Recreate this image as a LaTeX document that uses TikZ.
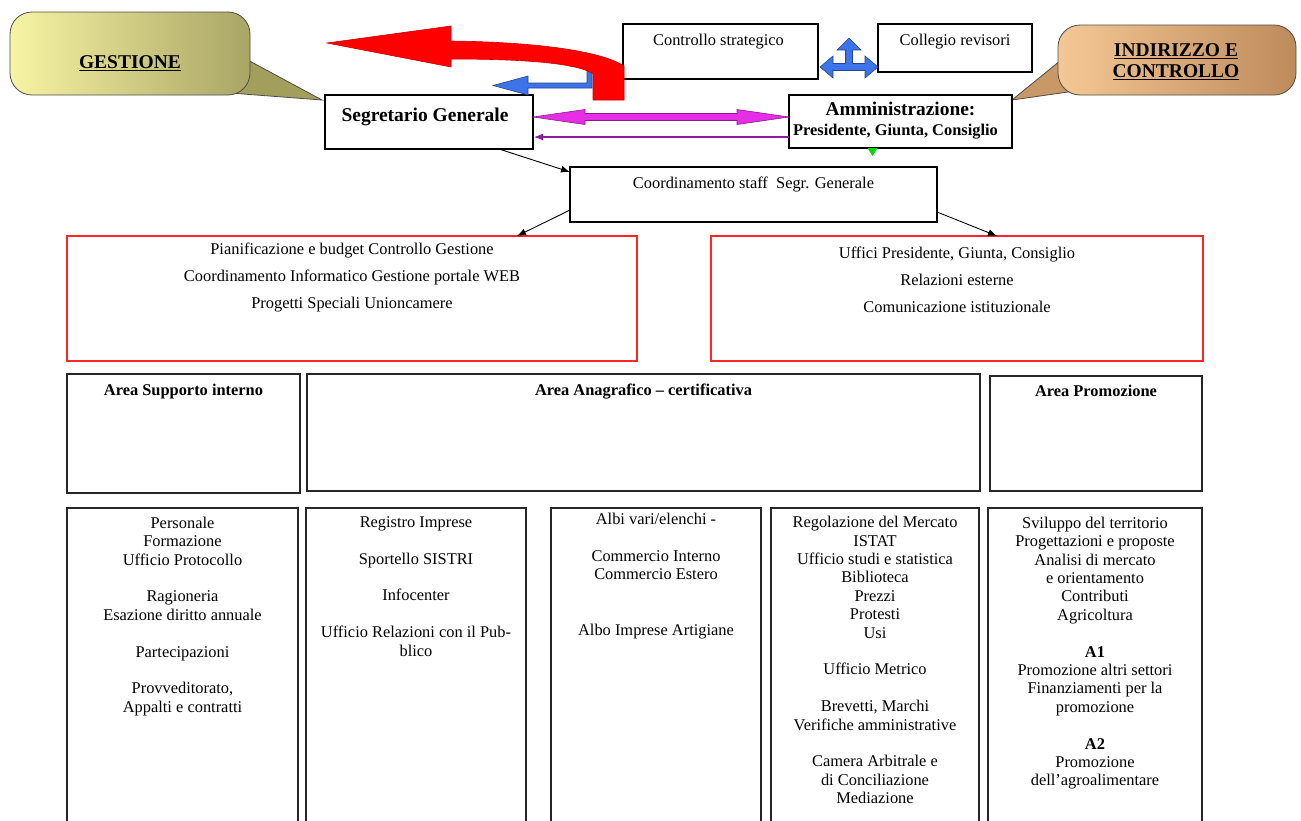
\documentclass[tikz,border=0pt]{standalone}
\usepackage{fontspec}
\setmainfont{Liberation Serif}
\usepackage{tikz}
\usetikzlibrary{calc,arrows.meta}
\definecolor{gestL}{HTML}{F7F4A4}
\definecolor{gestR}{HTML}{A9A565}
\definecolor{gestT}{HTML}{A29E5C}
\definecolor{indL}{HTML}{F4C894}
\definecolor{indR}{HTML}{BD8A5C}
\definecolor{indT}{HTML}{C99867}
\definecolor{mag}{HTML}{E52EE6}
\definecolor{purp}{HTML}{8B1C9C}
\definecolor{blu}{HTML}{3D74EA}
\newcommand{\txt}{\fontsize{16.4}{18.4}\selectfont}
\newcommand{\mybox}[5][box]{\node[#1,minimum width=#4pt,minimum height=#5pt] (#2) at (#3) {};}

\begin{document}
\begin{tikzpicture}[x=1pt,y=-1pt,>={Latex[length=9pt,width=7pt]},thick,
    box/.style={draw,line width=1.1pt,inner sep=0pt,outer sep=0pt},
    redbox/.style={box,draw=red!85!white},
    areabox/.style={box,line width=1.4pt,draw=black!85},
    lbl/.style={anchor=north,inner sep=0pt,align=center,font=\txt},
    blbl/.style={lbl,font=\txt\bfseries}]
\useasboundingbox (0,0) rectangle (1301,820);
\clip (0,0) rectangle (1301,820);

% callouts
\filldraw[fill=gestT,draw=black!70,line width=0.8pt] (244,58) -- (322,100) -- (230,93) -- cycle;
\shadedraw[left color=gestL,right color=gestR,draw=black!70,line width=0.8pt,rounded corners=22pt] (10,12) rectangle (250,95);
\node[font=\fontsize{19.5}{20}\selectfont\bfseries] (gest) at (130,63) {\underline{GESTIONE}};
\filldraw[fill=indT,draw=black!70,line width=0.8pt] (1066,56) -- (1012,100) -- (1082,90) -- cycle;
\shadedraw[left color=indL,right color=indR,draw=black!70,line width=0.8pt,rounded corners=22pt] (1058,25) rectangle (1296,95);
\node[font=\fontsize{19.5}{21}\selectfont\bfseries,align=center] (indir) at (1176,62) {\underline{INDIRIZZO E}\\\underline{CONTROLLO}};

% top boxes
\mybox{segr}{429,122}{208}{54}
\mybox{ctrl}{720.5,51.5}{195}{55}
\mybox{coll}{955,48}{154}{48}
\mybox{ammin}{900.5,121.5}{223}{53}
\mybox{coord}{753.5,194.5}{367}{55}
\node[blbl,font=\fontsize{19.5}{20}\selectfont\bfseries] (segr-t) at ($(segr.north)+(-4,12.5)$) {Segretario Generale};
\node[lbl] (ctrl-t) at ($(ctrl.north)+(-2,10)$) {Controllo strategico};
\node[lbl] (coll-t) at ($(coll.north)+(0,10)$) {Collegio revisori};
\node[blbl,font=\fontsize{19.4}{20}\selectfont\bfseries] (ammin-t) at ($(ammin.north)+(0,6.5)$) {Amministrazione:};
\node[blbl,font=\fontsize{16.4}{18}\selectfont\bfseries] (ammin-s) at ($(ammin.north)+(-5,28.5)$) {Presidente, Giunta, Consiglio};
\node[lbl] (coord-t) at ($(coord.north)+(0,9.5)$) {Coordinamento staff\ \ Segr. Generale};

% staff boxes
\mybox[redbox]{redL}{352,298.5}{570}{125}
\mybox[redbox]{redR}{957,298.5}{492}{125}
\node[lbl] (redL-t) at ($(redL.north)+(0,6.5)$) {Pianificazione e budget Controllo Gestione\\[8.6pt]
  Coordinamento Informatico Gestione portale WEB\\[8.6pt]Progetti Speciali Unioncamere};
\node[lbl] (redR-t) at ($(redR.north)+(0,10.5)$) {Uffici Presidente, Giunta, Consiglio\\[8.6pt]
  Relazioni esterne\\[8.6pt]Comunicazione istituzionale};

% areas
\mybox[areabox]{areaS}{183.5,433.5}{233}{119}
\mybox[areabox]{areaA}{643.5,432.5}{673}{117}
\mybox[areabox]{areaP}{1096,433.5}{212}{115}
\node[blbl] (areaS-t) at ($(areaS.north)+(0,9.5)$) {Area Supporto interno};
\node[blbl] (areaA-t) at ($(areaA.north)+(0,9.5)$) {Area Anagrafico – certificativa};
\node[blbl] (areaP-t) at ($(areaP.north)+(0,8.5)$) {Area Promozione};

% offices
\mybox[areabox]{off1}{182.5,674}{231}{332}
\mybox[areabox]{off2}{416,674}{220}{332}
\mybox[areabox]{off3}{656,674}{210}{332}
\mybox[areabox]{off4}{875,674}{208}{332}
\mybox[areabox]{off5}{1095,674}{214}{332}
\node[lbl] (off1-t) at ($(off1.north)+(0,8.5)$) {Personale\\Formazione\\Ufficio Protocollo\\[18.4pt]
  Ragioneria\\Esazione diritto annuale\\[18.4pt]Partecipazioni\\[18.4pt]
  Provveditorato,\\Appalti e contratti};
\node[lbl] (off2-t) at ($(off2.north)+(0,8)$) {Registro Imprese\\[18.4pt]Sportello SISTRI\\[18.4pt]
  Infocenter\\[18.4pt]Ufficio Relazioni con il Pub-\\blico};
\node[lbl] (off3-t) at ($(off3.north)+(0,5)$) {Albi vari/elenchi -\\[18.4pt]
  Commercio Interno\\Commercio Estero\\[36.8pt]Albo Imprese Artigiane};
\node[lbl] (off4-t) at ($(off4.north)+(0,8)$) {Regolazione del Mercato\\ISTAT\\Ufficio studi e statistica\\
  Biblioteca\\Prezzi\\Protesti\\Usi\\[18.4pt]Ufficio Metrico\\[18.4pt]
  Brevetti, Marchi\\Verifiche amministrative\\[18.4pt]
  Camera Arbitrale e\\di Conciliazione\\Mediazione};
\node[lbl] (off5-t) at ($(off5.north)+(0,8.5)$) {Sviluppo del territorio\\Progettazioni e proposte\\
  Analisi di mercato\\e orientamento\\Contributi\\Agricoltura\\[18.4pt]
  \textbf{A1}\\Promozione altri settori\\Finanziamenti per la\\promozione\\[18.4pt]
  \textbf{A2}\\Promozione\\dell’agroalimentare};

% blue arrows
\filldraw[fill=blu,draw=blu!60!black,line width=0.6pt] (493,85.5) -- (528,76) -- (528,83) -- (587,83)
  -- (587,66) -- (570,66) -- (592,55) -- (606,66) -- (592,66) -- (592,88) -- (528,88) -- (528,95) -- cycle;
\filldraw[fill=blu,draw=blu!60!black,line width=0.6pt,shift={(849,67)}] (-29,0) -- (-16,-11) -- (-16,-3.5)
  -- (-3.5,-3.5) -- (-3.5,-17) -- (-12,-17) -- (0,-29) -- (12,-17) -- (3.5,-17) -- (3.5,-3.5)
  -- (16,-3.5) -- (16,-11) -- (29,0) -- (16,11) -- (16,3.5) -- (-16,3.5) -- (-16,11) -- cycle;
% red arrow
\filldraw[fill=red,draw=red!80!black,line width=0.6pt] (327,43) -- (451,26) -- (451,41)
  .. controls (530,42) and (600,50) .. (624,66) -- (624,100) -- (593,100) -- (593,74)
  .. controls (580,64) and (530,59) .. (451,59) -- (451,67) -- cycle;

% magenta and purple
\coordinate (mg1) at ($(segr.east)+(0,-5)$);
\coordinate (mg2) at ($(ammin.west)+(0,-4.5)$);
\filldraw[fill=mag,draw=mag!60!black,line width=0.6pt] (mg1) -- ++(52,-7.5) -- ++(0,4) -- ($(mg2)+(-52,-3.5)$)
  -- ++(0,-4) -- (mg2) -- ++(-52,7.5) -- ++(0,-4) -- ($(mg1)+(52,3.5)$) -- ++(0,4) -- cycle;
\draw[purp,line width=1.2pt,->] ($(ammin.west)+(0,15.5)$) -- ($(segr.east)+(1,15)$);
\fill[green!85!black] ($(ammin.south)+(-33,0)$) -- ++(10,0) -- ++(-5,8) -- cycle;

% staff arrows
\draw[->,line width=0.9pt] ($(segr.south)+(70,0)$) -- ($(coord.north west)+(0,5)$);
\draw[->,line width=0.9pt] ($(coord.south west)+(0,-12)$) -- ($(redL.north)+(165,0)$);
\draw[->,line width=0.9pt] ($(coord.south east)+(0,-10)$) -- ($(redR.north)+(40,0)$);
\end{tikzpicture}
\end{document}
